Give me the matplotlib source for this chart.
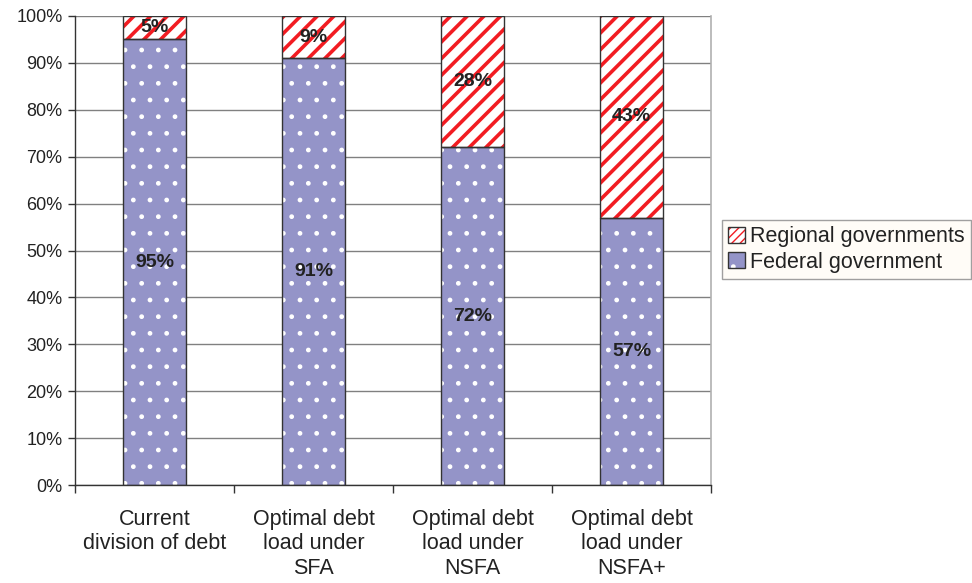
import numpy as np
import matplotlib
matplotlib.use("Agg")
import matplotlib.pyplot as plt
from matplotlib.patches import Patch
from matplotlib.legend_handler import HandlerTuple

plt.rcParams['font.family'] = ['Liberation Sans', 'DejaVu Sans']

categories = ["Current\ndivision of debt", "Optimal debt\nload under\nSFA",
              "Optimal debt\nload under\nNSFA", "Optimal debt\nload under\nNSFA+"]
federal = [95, 91, 72, 57]
regional = [5, 9, 28, 43]

purple = "#9494c8"
red = "#f21c22"
text_col = "#222222"

fig = plt.figure(figsize=(9.72, 5.83), dpi=100)
ax = fig.add_axes([0.0772, 0.168, 0.6543, 0.8046])

x = np.arange(len(categories)) + 0.5
w = 0.4

# federal: white dots on purple
plt.rcParams['hatch.linewidth'] = 1.0
ax.bar(x, federal, w, color=purple, edgecolor="white", hatch=".", linewidth=0, zorder=2)
ax.bar(x, federal, w, fill=False, edgecolor="#333333", linewidth=1.0, zorder=3)

# regional: red stripes on white
plt.rcParams['hatch.linewidth'] = 2.6
ax.bar(x, regional, w, bottom=federal, color="white", edgecolor=red, hatch="//",
       linewidth=0, zorder=2)
ax.bar(x, regional, w, bottom=federal, fill=False, edgecolor="#333333",
       linewidth=1.0, zorder=3)

for xi, f, r in zip(x, federal, regional):
    ax.text(xi, f / 2, f"{f}%", ha="center", va="center", fontsize=14,
            fontweight="bold", color=text_col, zorder=4)
    ax.text(xi, f + r / 2, f"{r}%", ha="center", va="center", fontsize=14,
            fontweight="bold", color=text_col, zorder=4)

ax.set_xlim(0, 4)
ax.set_ylim(0, 100)
ax.set_yticks(np.arange(0, 101, 10))
ax.set_yticklabels([f"{v}%" for v in range(0, 101, 10)], fontsize=13, color=text_col)
ax.tick_params(axis="y", direction="out", length=5, width=1, color="#333333", pad=4)

ax.set_xticks(np.arange(0, 5))
ax.set_xticklabels([])
ax.set_xticks(x, minor=True)
ax.set_xticklabels(categories, minor=True, fontsize=15.5, color=text_col,
                   linespacing=1.22)
ax.tick_params(axis="x", which="major", direction="out", length=6, width=1,
               color="#333333")
ax.tick_params(axis="x", which="minor", length=0, pad=17)

ax.yaxis.grid(True, color="#808080", linewidth=1.0, zorder=0)
ax.set_axisbelow(True)

for s in ["left", "bottom"]:
    ax.spines[s].set_color("#333333")
    ax.spines[s].set_linewidth(1.0)
ax.spines["top"].set_visible(False)
ax.spines["right"].set_color("#b0b0b0")
ax.spines["right"].set_linewidth(1.2)

# legend swatches: hatched patch plus a dark outline on top
plt.rcParams['hatch.linewidth'] = 2.2
h_reg = Patch(facecolor="white", edgecolor=red, hatch="////", linewidth=0)
plt.rcParams['hatch.linewidth'] = 1.0
h_fed = Patch(facecolor=purple, edgecolor="white", hatch=".", linewidth=0)
outline = Patch(fill=False, edgecolor="#333333", linewidth=1.0)
leg = fig.legend([(h_reg, outline), (h_fed, outline)],
                 ["Regional governments", "Federal government"],
                 handler_map={tuple: HandlerTuple(ndivide=1, pad=0)},
                 loc="upper left", bbox_to_anchor=(722 / 972, 1 - 220 / 583),
                 fontsize=15.5, frameon=True, fancybox=False, borderpad=0.3,
                 handlelength=0.75, handleheight=0.75, handletextpad=0.25,
                 labelspacing=0.2, borderaxespad=0)
leg.get_frame().set_facecolor("#fffcf5")
leg.get_frame().set_edgecolor("#888888")
leg.get_frame().set_linewidth(1.0)
for t in leg.get_texts():
    t.set_color(text_col)

fig.savefig("out.png", dpi=100)
